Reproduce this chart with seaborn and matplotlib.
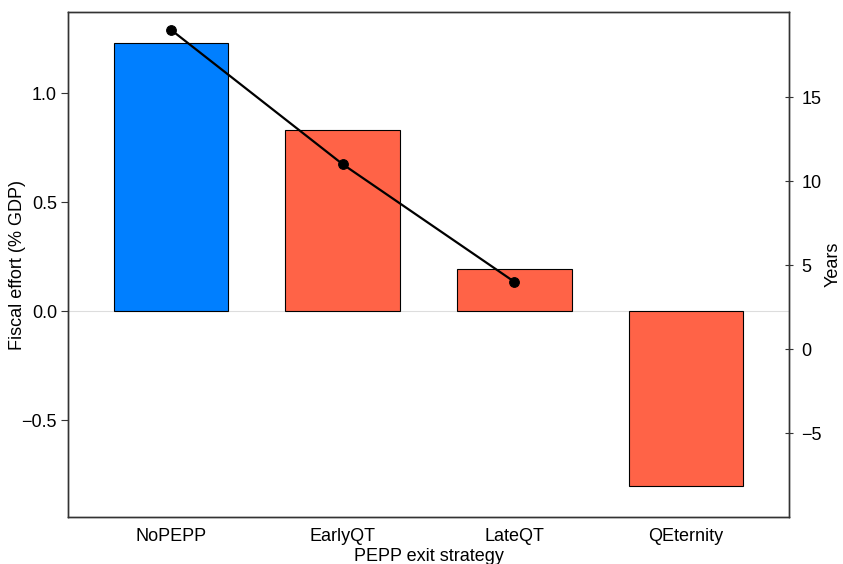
import matplotlib
matplotlib.use("Agg")
import matplotlib.pyplot as plt
import seaborn as sns
import pandas as pd

# Exit strategies and their outcomes
strategies = ["NoPEPP", "EarlyQT", "LateQT", "QEternity"]
fiscal_effort = [1.23, 0.83, 0.195, -0.805]   # % of GDP
years = [19, 11, 4]                            # years, first three strategies
bar_colors = ["#007FFF", "#FF6347", "#FF6347", "#FF6347"]

sns.set_theme(style="white")
plt.rcParams["font.family"] = ["Liberation Sans", "DejaVu Sans"]
plt.rcParams["font.size"] = 13
plt.rcParams["axes.labelcolor"] = "black"

W, H = 843, 564
fig = plt.figure(figsize=(W / 100, H / 100), dpi=100)
ax = fig.add_axes([68 / W, 1 - 517 / H, (789 - 68) / W, (517 - 12) / H])

df = pd.DataFrame({"strategy": strategies, "effort": fiscal_effort})
sns.barplot(data=df, x="strategy", y="effort", hue="strategy",
            palette=bar_colors, legend=False, width=2 / 3,
            edgecolor="black", linewidth=0.8, saturation=1, ax=ax, zorder=2)
ax.axhline(0, color="#dddddd", linewidth=0.8, zorder=1)

ax.set_xlim(-0.6, 3.6)
ax.set_ylim(-0.945, 1.372)
ax.set_yticks([-0.5, 0.0, 0.5, 1.0])
ax.set_yticklabels(["\u22120.5", "0.0", "0.5", "1.0"])
ax.set_xlabel("PEPP exit strategy", fontsize=13, color="black")
ax.set_ylabel("Fiscal effort (% GDP)", fontsize=13, color="black")
ax.xaxis.set_label_coords(0.5, -0.061)
ax.yaxis.set_label_coords(-0.058, 0.5)
ax.tick_params(axis="y", left=True, length=5, width=0.8, color="#333333",
               labelsize=13, labelcolor="black", pad=3)
ax.tick_params(axis="x", bottom=False, labelsize=13, labelcolor="black", pad=2)
for s in ax.spines.values():
    s.set_color("#333333")
    s.set_linewidth(1.0)

ax2 = ax.twinx()
line_df = pd.DataFrame({"pos": list(range(len(years))), "years": years})
sns.lineplot(data=line_df, x="pos", y="years", color="black", linewidth=1.6,
             marker="o", markersize=7, markeredgecolor="black", ax=ax2, zorder=3)
ax2.set_ylim(-10, 20.06)
ax2.set_yticks([-5, 0, 5, 10, 15])
ax2.set_yticklabels(["\u22125", "0", "5", "10", "15"])
ax2.set_ylabel("Years", fontsize=13, color="black")
ax2.yaxis.set_label_coords(1.049, 0.5)
ax2.tick_params(axis="y", right=True, direction="inout", length=6, width=0.8,
                color="#333333", labelsize=13, labelcolor="black", pad=6)
for s in ax2.spines.values():
    s.set_color("#333333")
    s.set_linewidth(1.0)
ax2.set_xlim(-0.6, 3.6)

fig.savefig("out.png", dpi=100)
